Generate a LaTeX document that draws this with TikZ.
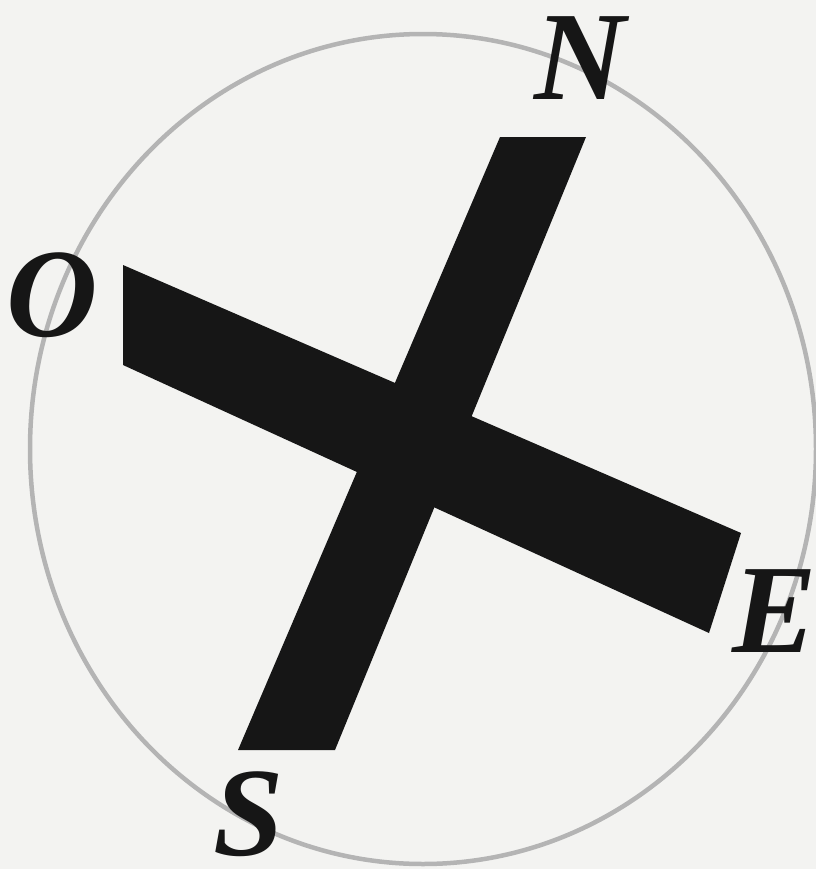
\documentclass[tikz,border=0pt]{standalone}
\usepackage{fontspec}
\setmainfont{Liberation Serif}
\usepackage{xcolor}
\definecolor{cppaper}{HTML}{F3F3F1}
\definecolor{cpring}{HTML}{B4B4B4}
\definecolor{cpink}{HTML}{161616}

\begin{document}
\begin{tikzpicture}[x=0.025cm,y=-0.025cm,font=\fontsize{90}{90}\selectfont\bfseries\itshape]
  \useasboundingbox (0,0) rectangle (816,869);
  \fill[cppaper] (0,0) rectangle (816,869);
  % ring
  \draw[cpring,line width=3.2pt] (423,449) ellipse [x radius=393,y radius=415];
  % the cross
  \fill[cpink] (500,137) -- (586,137) -- (335,750) -- (238,750) -- cycle;
  \fill[cpink] (123,265) -- (741,533) -- (709,633) -- (123,365) -- cycle;
  % points of the compass
  \foreach \name/\x/\y in {N/580/99, O/52/336, E/775/652, S/249/855}
    \node[inner sep=0pt,anchor=base,text depth=0pt,text=cpink] (pt\name) at (\x,\y) {\name};
\end{tikzpicture}
\end{document}
